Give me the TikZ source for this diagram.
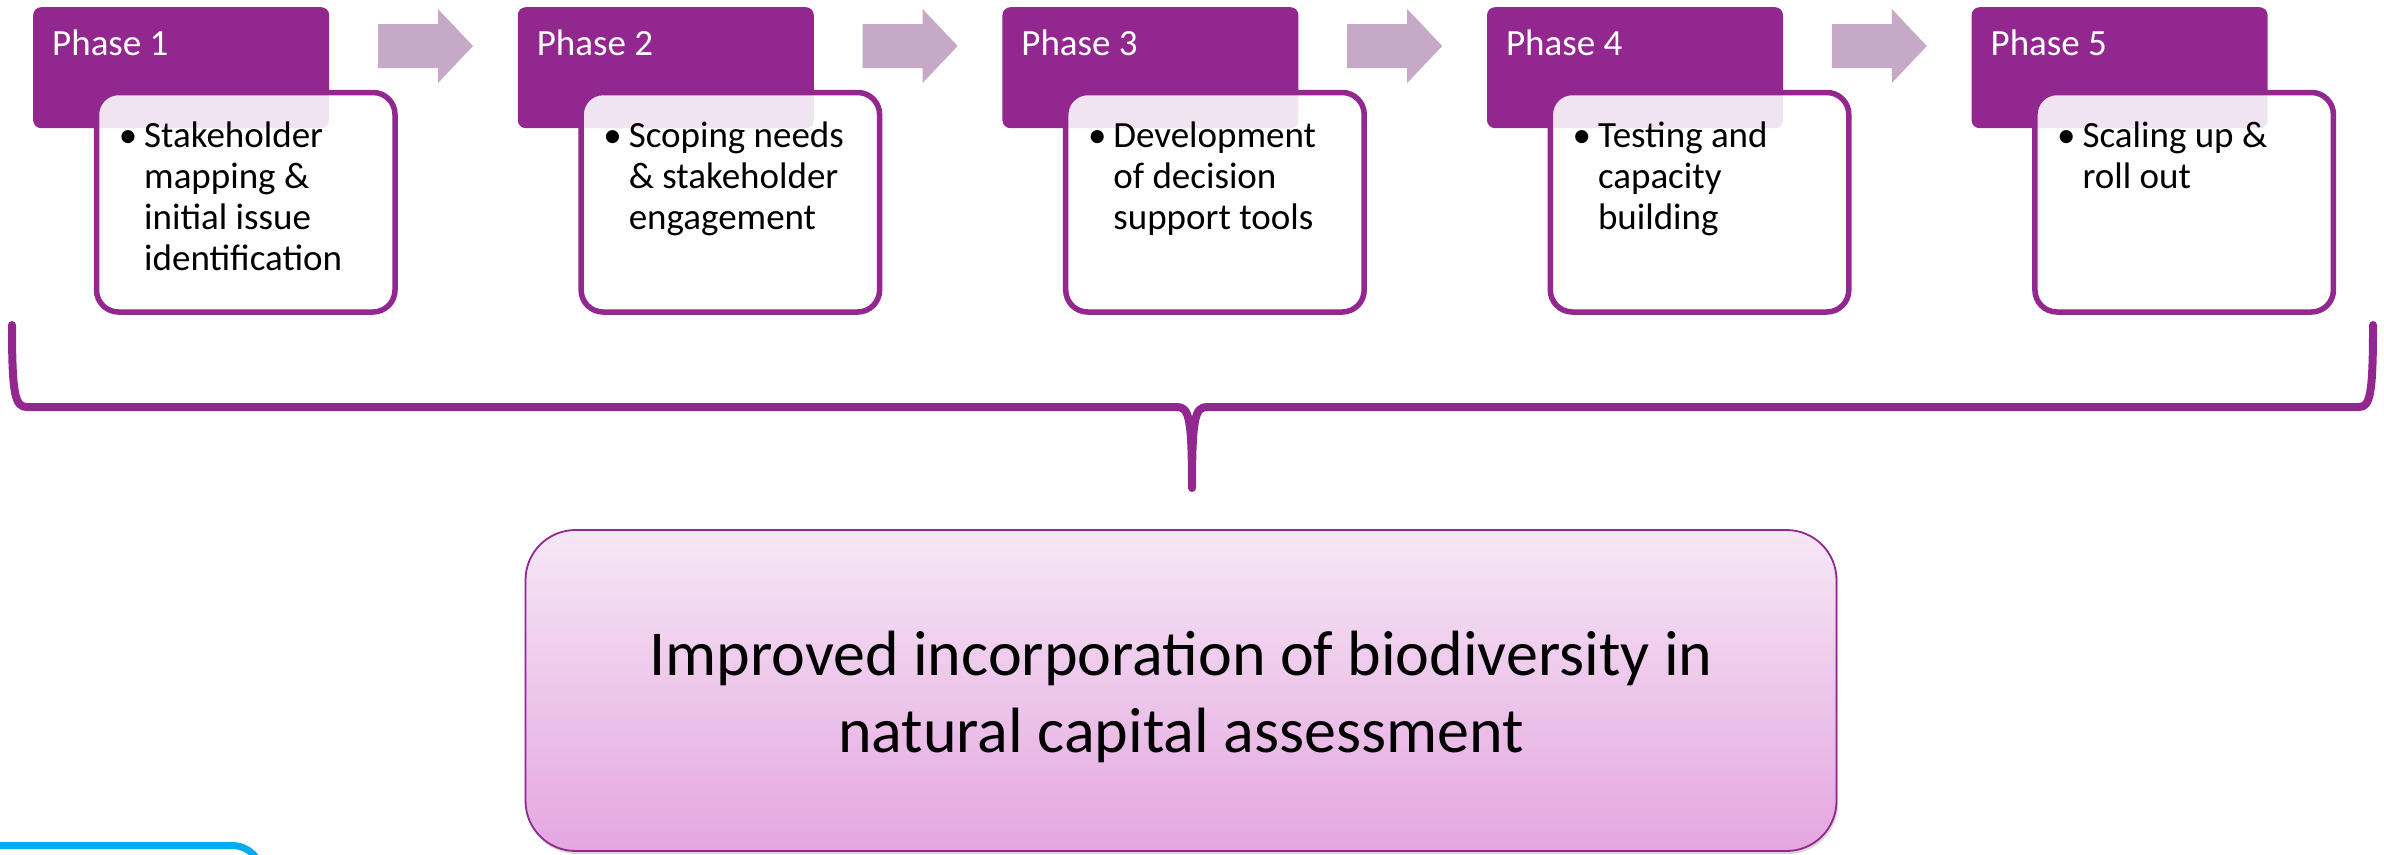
\documentclass[tikz,border=0pt]{standalone}
\usepackage{fontspec}
\setmainfont{Carlito}
\usetikzlibrary{calc,shadows}
\definecolor{phpurple}{HTML}{92278F}
\definecolor{arrowc}{HTML}{C6A9C6}
\definecolor{cyanc}{HTML}{00AEEF}
\definecolor{gtop}{HTML}{F6E7F5}
\definecolor{gbot}{HTML}{E4A6E0}
\begin{document}
\begin{tikzpicture}[x=1pt,y=-1pt,
  header/.style={fill=phpurple, rounded corners=8pt, minimum width=296pt, minimum height=121pt, inner sep=0pt, anchor=north west},
  bodybox/.style={draw=phpurple, line width=5.5pt, fill=white, fill opacity=0.88, rounded corners=22pt, minimum width=298.5pt, minimum height=219.5pt, inner sep=0pt, anchor=north west},
  phtext/.style={text=white, font=\fontsize{37}{41}\selectfont, inner sep=0pt, anchor=base west},
  bultext/.style={text=black, font=\fontsize{37}{41}\selectfont, inner sep=0pt, anchor=base west},
  bulmark/.style={text=black, font=\fontsize{37}{41}\selectfont, inner sep=0pt, anchor=base},
  flowarrow/.style={fill=arrowc},
  goalbox/.style={draw=phpurple, line width=1.8pt, rounded corners=50pt, top color=gtop, bottom color=gbot, minimum width=1311pt, minimum height=321pt, inner sep=0pt,
     drop shadow={shadow xshift=1.5pt, shadow yshift=-3pt, opacity=0.25, fill=black!60}},
  goaltext/.style={text=black, font=\fontsize{64}{77}\selectfont, inner sep=0pt, anchor=base},
  bracestyle/.style={draw=phpurple, line width=8pt, line cap=round, line join=round},
  cyanline/.style={draw=cyanc, line width=7pt, rounded corners=30pt}
]
\useasboundingbox (0,0) rectangle (2384,854);
\fill[white] (0,0) rectangle (2384,854);

% phases
\foreach \i/\txt in {1/{Stakeholder\\mapping \&\\initial issue\\identification},
                     2/{Scoping needs\\\& stakeholder\\engagement},
                     3/{Development\\of decision\\support tools},
                     4/{Testing and\\capacity\\building},
                     5/{Scaling up \&\\roll out}}{
  \pgfmathsetmacro{\hx}{33+484.6*(\i-1)}
  \node[header] (h\i) at (\hx,7) {};
  \node[phtext] (p\i) at ($(h\i.north west)+(19,48)$) {Phase \i};
  \node[bodybox] (b\i) at ($(h\i.north west)+(60.75,82.75)$) {};
  \node[bulmark] (m\i) at ($(h\i.north west)+(95,140)$) {•};
  \node[bultext] (t\i) at ($(h\i.north west)+(111,140)$) {\parbox[t]{240pt}{\raggedright \txt}};
}

% block arrows between phases
\foreach \i in {1,2,3,4}{
  \fill[flowarrow] ($(h\i.north west)+(345,17)$) -- ($(h\i.north west)+(405,17)$)
     -- ($(h\i.north west)+(405,2)$) -- ($(h\i.north west)+(440,39)$)
     -- ($(h\i.north west)+(405,76)$) -- ($(h\i.north west)+(405,61)$)
     -- ($(h\i.north west)+(345,61)$) -- cycle;
}

% brace
\coordinate (bl) at (12,325);
\coordinate (br) at (2373,325);
\coordinate (tip) at (1192,488);
\draw[bracestyle] (bl) .. controls (12,395) and (15,407) .. (27,407) -- (1177,407)
   .. controls (1189,407) and (1192,418) .. (tip)
   .. controls (1192,418) and (1195,407) .. (1207,407) -- (2359,407)
   .. controls (2370,407) and (2373,395) .. (br);

% goal box
\node[goalbox] (goal) at (1181,690.5) {};
\node[goaltext] (gt) at (1181,675) {\parbox[t]{1300pt}{\centering Improved incorporation of biodiversity in\\natural capital assessment}};

% partial cyan frame at bottom-left
\begin{scope}
  \clip (0,0) rectangle (2384,854);
  \draw[cyanline] (-20,845.5) -- (262,845.5) -- (262,920);
\end{scope}
\end{tikzpicture}
\end{document}
